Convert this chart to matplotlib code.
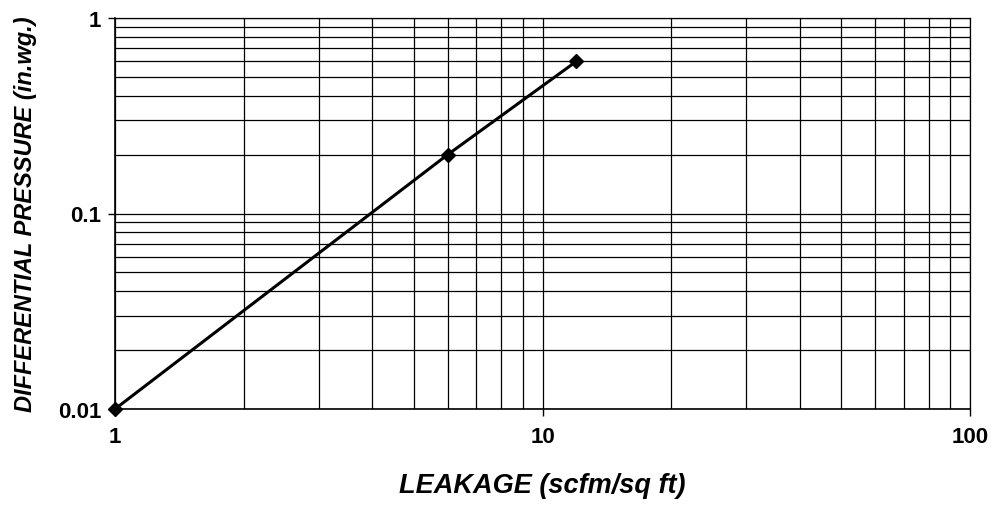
import numpy as np
import matplotlib.pyplot as plt
from matplotlib.ticker import LogLocator, FixedFormatter, FixedLocator, NullFormatter

plt.rcParams['font.family'] = ['Liberation Sans', 'DejaVu Sans']

leakage = [1, 6, 12]
pressure = [0.01, 0.2, 0.6]
x_ticks = [1, 10, 100]
x_labels = ['1', '10', '100']
y_ticks = [0.01, 0.1, 1]
y_labels = ['0.01', '0.1', '1']

fig = plt.figure(figsize=(9.94, 5.06), dpi=100)
ax = fig.add_axes([115 / 994, 1 - 410 / 506, 855 / 994, 391 / 506])

ax.plot(leakage, pressure, color='black', linewidth=2.2, marker='D',
        markersize=7, clip_on=False, zorder=5)

ax.set_xscale('log')
ax.set_yscale('log')
ax.set_xlim(1, 100)
ax.set_ylim(0.01, 1)

ax.xaxis.set_major_locator(FixedLocator(x_ticks))
ax.xaxis.set_major_formatter(FixedFormatter(x_labels))
ax.yaxis.set_major_locator(FixedLocator(y_ticks))
ax.yaxis.set_major_formatter(FixedFormatter(y_labels))
ax.xaxis.set_minor_locator(LogLocator(base=10, subs=np.arange(2, 10)))
ax.yaxis.set_minor_locator(LogLocator(base=10, subs=np.arange(2, 10)))
ax.xaxis.set_minor_formatter(NullFormatter())
ax.yaxis.set_minor_formatter(NullFormatter())

ax.grid(which='both', color='black', linewidth=0.9)
ax.tick_params(which='major', length=5, width=1, direction='out',
               labelsize=16)
ax.tick_params(axis='x', which='major', pad=7)
ax.tick_params(axis='y', which='major', pad=5)
ax.tick_params(which='minor', length=0)
for lbl in ax.get_xticklabels() + ax.get_yticklabels():
    lbl.set_fontweight('bold')

for s in ['left', 'bottom']:
    ax.spines[s].set_linewidth(1.2)
for s in ['top', 'right']:
    ax.spines[s].set_linewidth(0.9)

ax.set_xlabel('LEAKAGE (scfm/sq ft)', fontsize=19.5, fontweight='bold',
              fontstyle='italic', labelpad=18)
ax.set_ylabel('DIFFERENTIAL PRESSURE (in.wg.)', fontsize=17, fontweight='bold',
              fontstyle='italic', labelpad=15)

fig.savefig('out.png', dpi=100)
